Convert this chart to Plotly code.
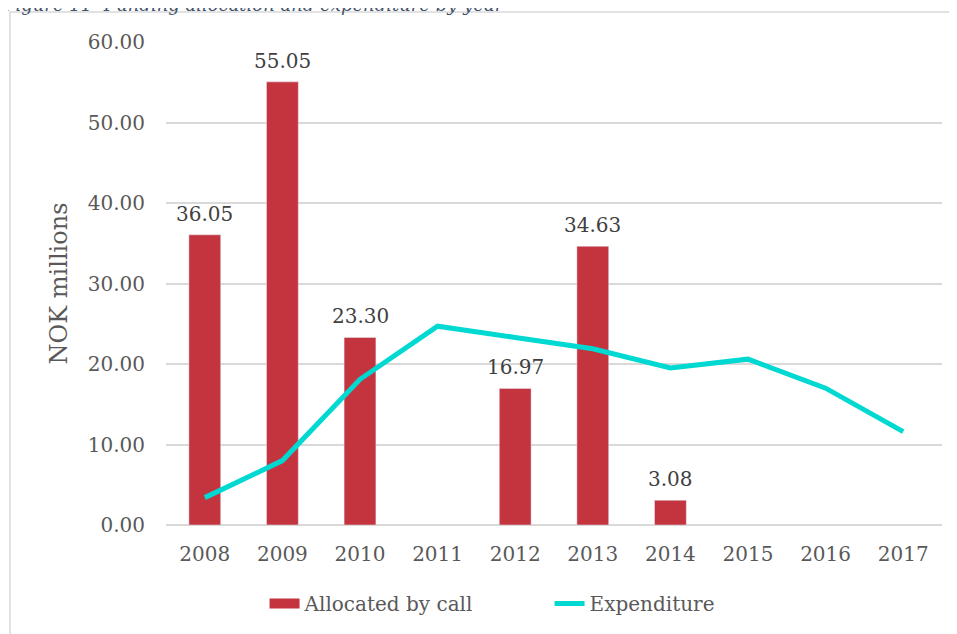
import plotly.graph_objects as go

years = ["2008", "2009", "2010", "2011", "2012", "2013", "2014", "2015", "2016", "2017"]
allocated = [36.05, 55.05, 23.30, None, 16.97, 34.63, 3.08, None, None, None]
expenditure = [3.4, 8.0, 18.1, 24.7, 23.3, 21.9, 19.5, 20.6, 17.0, 11.6]

FONT = "DejaVu Serif, Georgia, serif"
RED = "#C3343F"
CYAN = "#00D8D2"

fig = go.Figure()
fig.add_trace(go.Bar(
    x=years, y=allocated, name="Allocated by call",
    marker=dict(color=RED), width=0.41, showlegend=False,
))
fig.add_trace(go.Scatter(
    x=years, y=expenditure, name="Expenditure", mode="lines",
    line=dict(color=CYAN, width=5), showlegend=False,
))
# legend entries (no visible data)
fig.add_trace(go.Scatter(x=[years[0]], y=[None], mode="lines", name="Allocated by call",
                         line=dict(color=RED, width=12)))
fig.add_trace(go.Scatter(x=[years[0]], y=[None], mode="lines", name="Expenditure",
                         line=dict(color=CYAN, width=5)))

# value labels above bars (x given as category index)
annotations = [dict(x=i, y=v, xref="x", yref="y", text=f"{v:.2f}", showarrow=False,
                    yanchor="bottom", yshift=7,
                    font=dict(size=20, color="#404040", family=FONT))
               for i, v in enumerate(allocated) if v is not None]
annotations.append(dict(text="Figure 11  Funding allocation and expenditure by year",
                        xref="paper", yref="paper", x=-0.214, y=1.078, xanchor="left",
                        yanchor="middle", showarrow=False,
                        font=dict(size=18, color="#44546A", family=FONT, style="italic")))

fig.update_layout(
    width=957, height=634,
    margin=dict(l=158, r=23, t=34, b=117, autoexpand=False),
    paper_bgcolor="white", plot_bgcolor="white",
    font=dict(family=FONT, color="#595959", size=20),
    showlegend=True,
    legend=dict(orientation="h", x=0.127, xanchor="left", y=-0.122, yanchor="top",
                font=dict(size=20, color="#595959"), traceorder="normal",
                entrywidth=240, entrywidthmode="pixels"),
    xaxis=dict(showgrid=False, showline=False, ticks="", tickfont=dict(size=20),
               type="category", categoryorder="array", categoryarray=years,
               range=[-0.5, len(years) - 0.5],
               automargin=False, ticklabelstandoff=15),
    yaxis=dict(range=[0, 60], dtick=10, tickformat=".2f", showgrid=True,
               gridcolor="#D9D9D9", gridwidth=1.5, zeroline=True, zerolinecolor="#D9D9D9",
               zerolinewidth=1.5, showline=False, ticks="", ticklabelstandoff=20,
               tickfont=dict(size=20), automargin=False,
               title=dict(text="NOK millions", font=dict(size=24, color="#595959"), standoff=13)),
    shapes=[dict(type="rect", xref="paper", yref="paper", x0=-0.201, x1=1.05,
                 y0=-0.4, y1=1.062, line=dict(color="#D9D9D9", width=1.5), layer="below")],
    annotations=annotations,
)

fig.write_html("out.html")
